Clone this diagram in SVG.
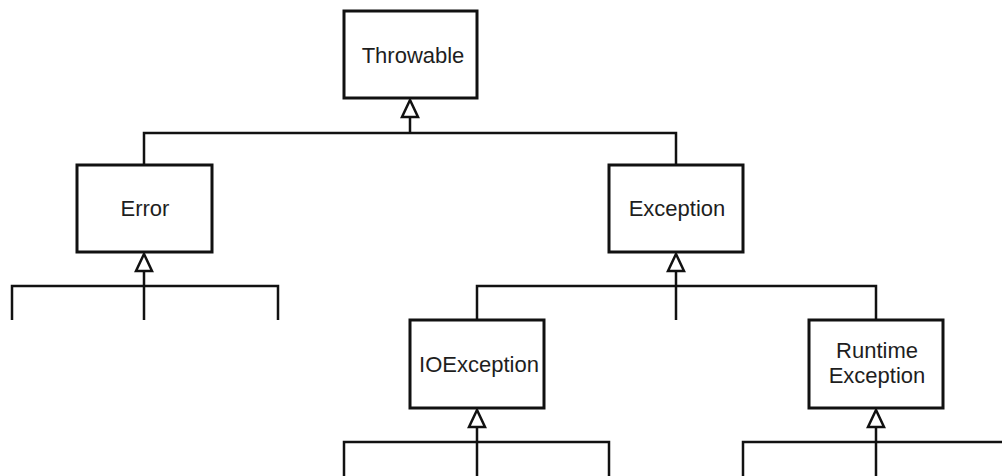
<svg xmlns="http://www.w3.org/2000/svg" width="1002" height="476" viewBox="0 0 1002 476">
  <style>
    .box { fill: #ffffff; stroke: #111111; stroke-width: 3; }
    .lbl { font-family: "Liberation Sans", Arial, sans-serif; font-size: 22px; fill: #1e1e1e; text-anchor: middle; }
    .ln { fill: none; stroke: #111111; stroke-width: 2.5; }
    .tri { fill: #ffffff; stroke: #111111; stroke-width: 2.5; stroke-linejoin: miter; }
  </style>
  <rect width="1002" height="476" fill="#ffffff"/>

  <g id="connectors">
    <!-- Throwable children -->
    <path class="ln" d="M410,117 V133 M144,165 V133 H676 V165"/>
    <polygon class="tri" points="410,100 402,117 418,117"/>
    <!-- Error children -->
    <path class="ln" d="M144,271 V320 M12,320 V286 H278 V320"/>
    <polygon class="tri" points="144,254 136,271 152,271"/>
    <!-- Exception children -->
    <path class="ln" d="M676,271 V320 M477,320 V286 H876 V320"/>
    <polygon class="tri" points="676,254 668,271 684,271"/>
    <!-- IOException children -->
    <path class="ln" d="M477,427 V476 M344,476 V442 H609 V476"/>
    <polygon class="tri" points="477,410 469,427 485,427"/>
    <!-- RuntimeException children -->
    <path class="ln" d="M876,427 V476 M743,476 V442 H1010"/>
    <polygon class="tri" points="876,410 868,427 884,427"/>
  </g>

  <g id="throwable">
    <rect class="box" x="344" y="11" width="133" height="87"/>
    <text class="lbl" x="413" y="63">Throwable</text>
  </g>
  <g id="error">
    <rect class="box" x="77" y="165" width="135" height="87"/>
    <text class="lbl" x="145" y="216">Error</text>
  </g>
  <g id="exception">
    <rect class="box" x="609" y="165" width="134" height="87"/>
    <text class="lbl" x="677" y="216">Exception</text>
  </g>
  <g id="ioexception">
    <rect class="box" x="410" y="320" width="134" height="88"/>
    <text class="lbl" x="479" y="372">IOException</text>
  </g>
  <g id="runtimeexception">
    <rect class="box" x="809" y="320" width="134" height="88"/>
    <text class="lbl" x="877" y="358">Runtime</text>
    <text class="lbl" x="877" y="383">Exception</text>
  </g>
</svg>
